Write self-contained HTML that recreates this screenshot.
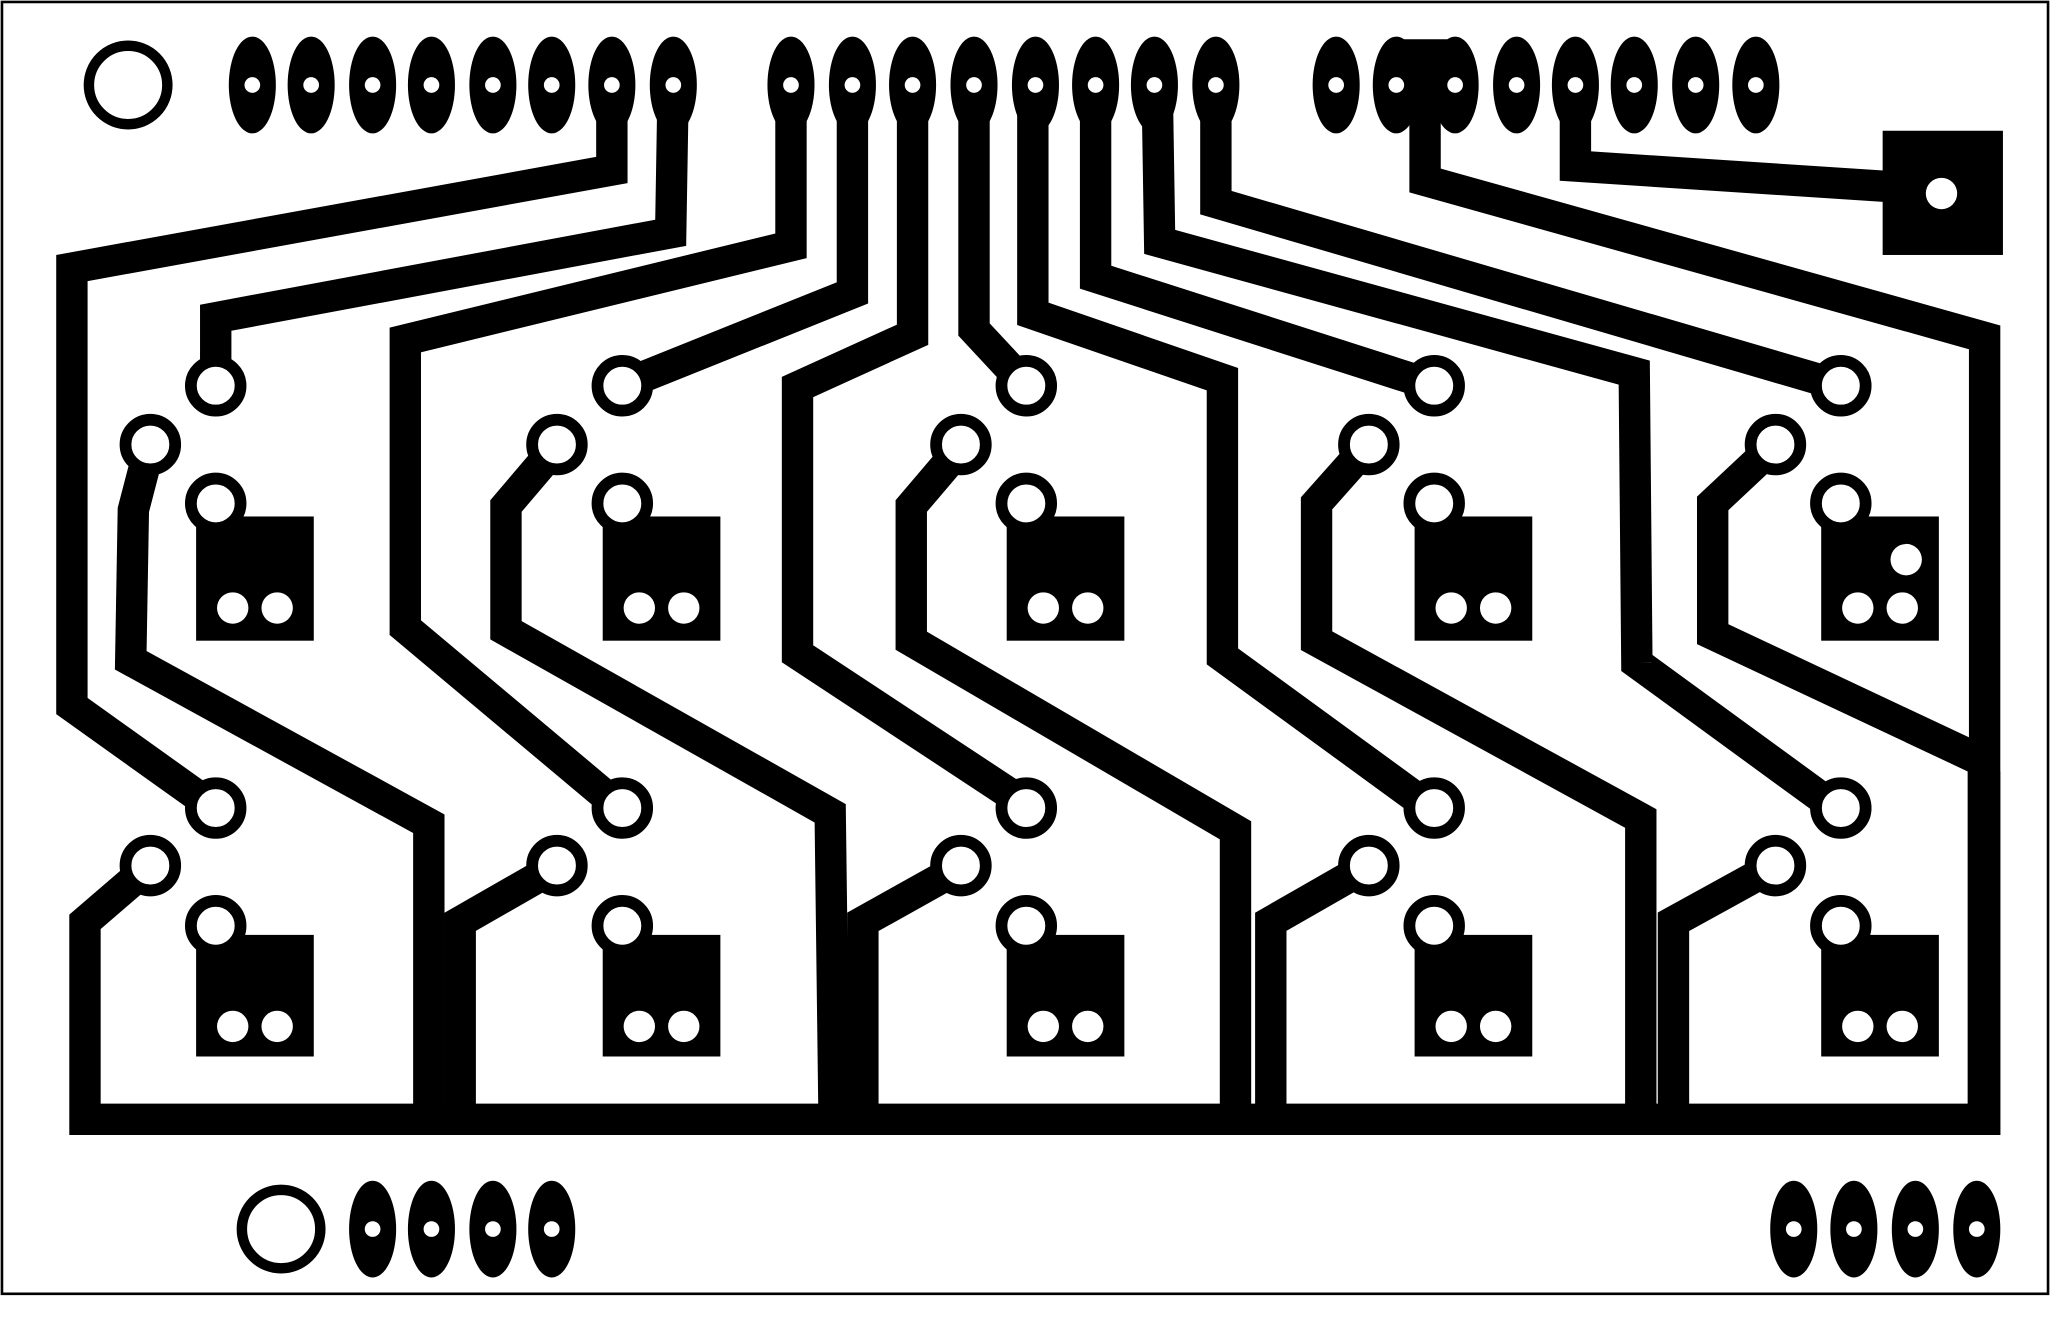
<!DOCTYPE html>
<html><head><meta charset="utf-8"><style>
html,body{margin:0;padding:0;background:#fff;width:2050px;height:1318px;overflow:hidden}
svg{display:block}
</style></head><body>
<svg width="2050" height="1318" viewBox="0 0 1568 1008" preserveAspectRatio="none" xmlns="http://www.w3.org/2000/svg">
<rect x="1.5" y="1.5" width="1565" height="988" fill="#fff" stroke="#000" stroke-width="2"/>
<g fill="none" stroke="#000" stroke-width="24" stroke-linejoin="miter" stroke-miterlimit="10">
<!-- col0 -->
<polyline points="468,60 468,130 55,205 55,540 160,615"/>
<polyline points="515,60 513,178 165,243 165,295"/>
<polyline points="115,340 102,390 100,505 328,630 328,858"/>
<polyline points="115,662 65,705 65,856 1518,856 1518,258 1090,138 1090,40"/>
<!-- col1 -->
<polyline points="605,60 605,188 310,260 310,480 465,610"/>
<polyline points="652,60 652,224 475,295"/>
<polyline points="427,340 387,387 387,482 635,622 638,858"/>
<polyline points="427,662 352,705 352,858"/>
<!-- col2 -->
<polyline points="698,60 698,256 610,296 610,500 780,612"/>
<polyline points="745,60 745,252 785,295"/>
<polyline points="737,340 697,387 697,490 945,635 945,858"/>
<polyline points="737,662 660,705 660,858"/>
<!-- col3 -->
<polyline points="790,60 790,240 935,290 935,502 1090,615"/>
<polyline points="838,60 838,212 1097,295"/>
<polyline points="1047,340 1007,385 1007,490 1255,626 1255,858"/>
<polyline points="1047,662 972,705 972,858"/>
<!-- col4 -->
<polyline points="885,60 887,185 1250,285 1252,507 1400,615"/>
<polyline points="930,60 930,155 1408,295"/>
<polyline points="1358,340 1310,385 1310,485 1512,580"/>
<polyline points="1358,662 1280,705 1280,858"/>
<polyline points="1205,60 1205,127 1450,143"/>
<line x1="1068" y1="42" x2="1113" y2="42"/>
</g>
<rect x="1505" y="590" width="25" height="278" fill="#000"/>
<rect x="1440" y="100" width="92" height="95" fill="#000"/>
<circle cx="1485" cy="148" r="12" fill="#fff"/>
<!-- top connectors -->
<g fill="#000">
<ellipse cx="193" cy="65" rx="18" ry="37"/><ellipse cx="238" cy="65" rx="18" ry="37"/><ellipse cx="285" cy="65" rx="18" ry="37"/><ellipse cx="330" cy="65" rx="18" ry="37"/><ellipse cx="377" cy="65" rx="18" ry="37"/><ellipse cx="422" cy="65" rx="18" ry="37"/><ellipse cx="468" cy="65" rx="18" ry="37"/><ellipse cx="515" cy="65" rx="18" ry="37"/>
<ellipse cx="605" cy="65" rx="18" ry="37"/><ellipse cx="652" cy="65" rx="18" ry="37"/><ellipse cx="698" cy="65" rx="18" ry="37"/><ellipse cx="745" cy="65" rx="18" ry="37"/><ellipse cx="792" cy="65" rx="18" ry="37"/><ellipse cx="838" cy="65" rx="18" ry="37"/><ellipse cx="883" cy="65" rx="18" ry="37"/><ellipse cx="930" cy="65" rx="18" ry="37"/>
<ellipse cx="1022" cy="65" rx="18" ry="37"/><ellipse cx="1068" cy="65" rx="18" ry="37"/><ellipse cx="1113" cy="65" rx="18" ry="37"/><ellipse cx="1160" cy="65" rx="18" ry="37"/><ellipse cx="1205" cy="65" rx="18" ry="37"/><ellipse cx="1250" cy="65" rx="18" ry="37"/><ellipse cx="1297" cy="65" rx="18" ry="37"/><ellipse cx="1343" cy="65" rx="18" ry="37"/>
<ellipse cx="285" cy="940" rx="18" ry="37"/><ellipse cx="330" cy="940" rx="18" ry="37"/><ellipse cx="377" cy="940" rx="18" ry="37"/><ellipse cx="422" cy="940" rx="18" ry="37"/>
<ellipse cx="1372" cy="940" rx="18" ry="37"/><ellipse cx="1418" cy="940" rx="18" ry="37"/><ellipse cx="1465" cy="940" rx="18" ry="37"/><ellipse cx="1512" cy="940" rx="18" ry="37"/>
</g>
<g fill="#fff">
<circle cx="193" cy="65" r="6"/><circle cx="238" cy="65" r="6"/><circle cx="285" cy="65" r="6"/><circle cx="330" cy="65" r="6"/><circle cx="377" cy="65" r="6"/><circle cx="422" cy="65" r="6"/><circle cx="468" cy="65" r="6"/><circle cx="515" cy="65" r="6"/>
<circle cx="605" cy="65" r="6"/><circle cx="652" cy="65" r="6"/><circle cx="698" cy="65" r="6"/><circle cx="745" cy="65" r="6"/><circle cx="792" cy="65" r="6"/><circle cx="838" cy="65" r="6"/><circle cx="883" cy="65" r="6"/><circle cx="930" cy="65" r="6"/>
<circle cx="1022" cy="65" r="6"/><circle cx="1068" cy="65" r="6"/><circle cx="1113" cy="65" r="6"/><circle cx="1160" cy="65" r="6"/><circle cx="1205" cy="65" r="6"/><circle cx="1250" cy="65" r="6"/><circle cx="1297" cy="65" r="6"/><circle cx="1343" cy="65" r="6"/>
<circle cx="285" cy="940" r="6"/><circle cx="330" cy="940" r="6"/><circle cx="377" cy="940" r="6"/><circle cx="422" cy="940" r="6"/>
<circle cx="1372" cy="940" r="6"/><circle cx="1418" cy="940" r="6"/><circle cx="1465" cy="940" r="6"/><circle cx="1512" cy="940" r="6"/>
</g>
<circle cx="98" cy="65" r="30" fill="#fff" stroke="#000" stroke-width="8"/>
<circle cx="215" cy="940" r="30" fill="#fff" stroke="#000" stroke-width="8"/>
<!-- modules -->
<defs>
<g id="m">
<rect x="150" y="395" width="90" height="95" fill="#000"/>
<circle cx="178" cy="465" r="12" fill="#fff"/><circle cx="212" cy="465" r="12" fill="#fff"/>
<g fill="#fff" stroke="#000" stroke-width="9">
<circle cx="165" cy="295" r="19"/><circle cx="115" cy="340" r="19"/><circle cx="165" cy="385" r="19"/>
</g>
<rect x="150" y="715" width="90" height="93" fill="#000"/>
<circle cx="178" cy="785" r="12" fill="#fff"/><circle cx="212" cy="785" r="12" fill="#fff"/>
<g fill="#fff" stroke="#000" stroke-width="9">
<circle cx="165" cy="618" r="19"/><circle cx="115" cy="662" r="19"/><circle cx="165" cy="708" r="19"/>
</g>
</g>
</defs>
<use href="#m"/>
<use href="#m" transform="translate(311,0)"/>
<use href="#m" transform="translate(620,0)"/>
<use href="#m" transform="translate(932,0)"/>
<use href="#m" transform="translate(1243,0)"/>
<circle cx="1458" cy="428" r="12" fill="#fff"/>
</svg>
</body></html>
